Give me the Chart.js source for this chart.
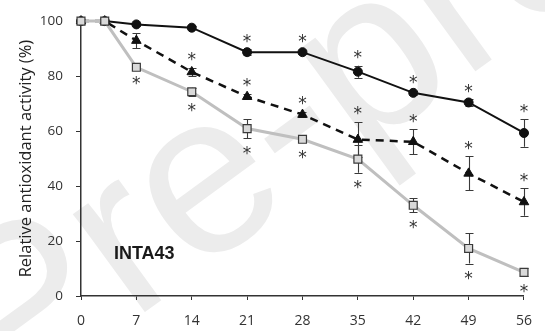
<!DOCTYPE html>
<html>
<head>
<meta charset="utf-8">
<script src="https://cdn.jsdelivr.net/npm/chart.js@4/dist/chart.umd.min.js"></script>
<style>
html,body{margin:0;padding:0;background:#fff;}
#wrap{width:545px;height:331px;position:relative;}
</style>
</head>
<body>
<div id="wrap"><canvas id="c" width="545" height="331"></canvas></div>
<script>
// ---- data ----
const days = [0, 3, 7, 14, 21, 28, 35, 42, 49, 56];
const xTicks = [0, 7, 14, 21, 28, 35, 42, 49, 56];
const yTicks = [0, 20, 40, 60, 80, 100];

const circleVals = [100, 100, 98.8, 97.6, 88.7, 88.7, 81.6, 73.9, 70.4, 59.3];
const circleErr  = [0, 0, 0.6, 0.5, 1.0, 0.8, 2.2, 0.8, 1.2, 5.0];
const circleSig  = [0, 0, 0, 0, 1, 1, 1, 1, 1, 1];

const triVals = [100, 100, 92.9, 81.5, 72.5, 66.0, 56.9, 56.1, 44.6, 34.2];
const triErr  = [0, 0, 2.7, 1.5, 1.0, 1.0, 6.4, 4.5, 6.2, 5.0];
const triSig  = [0, 0, 0, 1, 1, 1, 1, 1, 1, 1];

const sqVals = [100, 100, 83.2, 74.3, 60.9, 57.0, 49.8, 33.0, 17.3, 8.6];
const sqErr  = [0, 0, 0.5, 1.5, 3.5, 1.0, 5.0, 2.5, 5.5, 1.5];
const sqSig  = [0, 0, 1, 1, 1, 1, 1, 1, 1, 1];

const yTitle = 'Relative antioxidant activity (%)';
const panelLabel = 'INTA43';
const watermark = 'Pre-proof';

const pts = vals => days.map((d, i) => ({x: d, y: vals[i]}));

// extra info per dataset: errors, significance, asterisk direction
const extras = [
  {err: sqErr, sig: sqSig, dir: 1},
  {err: triErr, sig: triSig, dir: -1},
  {err: circleErr, sig: circleSig, dir: -1}
];

const watermarkPlugin = {
  id: 'wm',
  beforeDraw(chart) {
    const ctx = chart.ctx;
    ctx.save();
    ctx.fillStyle = '#fff';
    ctx.fillRect(0, 0, chart.width, chart.height);
    ctx.translate(8, 412);
    ctx.rotate(-0.63);
    ctx.font = '230px "Liberation Sans"';
    ctx.fillStyle = '#ececec';
    ctx.textBaseline = 'alphabetic';
    ctx.fillText(watermark, 0, 0);
    ctx.restore();
  }
};

const errorBarPlugin = {
  id: 'errbars',
  beforeDatasetsDraw(chart) {
    const ctx = chart.ctx;
    const ys = chart.scales.y;
    ctx.save();
    ctx.strokeStyle = '#3a3a3a';
    ctx.lineWidth = 1.1;
    chart.data.datasets.forEach((ds, di) => {
      const meta = chart.getDatasetMeta(di);
      const ex = extras[di];
      meta.data.forEach((el, i) => {
        const e = ex.err[i];
        if (!e) return;
        const v = ds.data[i].y;
        const x = Math.round(el.x) + 0.5;
        const yt = ys.getPixelForValue(v + e);
        const yb = ys.getPixelForValue(v - e);
        ctx.beginPath();
        ctx.moveTo(x, yt); ctx.lineTo(x, yb);
        ctx.moveTo(x - 4, Math.round(yt) + 0.5); ctx.lineTo(x + 4, Math.round(yt) + 0.5);
        ctx.moveTo(x - 4, Math.round(yb) + 0.5); ctx.lineTo(x + 4, Math.round(yb) + 0.5);
        ctx.stroke();
      });
    });
    ctx.restore();
  },
  afterDatasetsDraw(chart) {
    const ctx = chart.ctx;
    const ys = chart.scales.y;
    const xs = chart.scales.x;
    ctx.save();
    ctx.fillStyle = '#333';
    ctx.font = '17px "DejaVu Sans"';
    ctx.textAlign = 'center';
    ctx.textBaseline = 'alphabetic';
    const m = ctx.measureText('*');
    const midOff = (m.actualBoundingBoxAscent - m.actualBoundingBoxDescent) / 2;
    chart.data.datasets.forEach((ds, di) => {
      const meta = chart.getDatasetMeta(di);
      const ex = extras[di];
      meta.data.forEach((el, i) => {
        if (!ex.sig[i]) return;
        const v = ds.data[i].y;
        const e = ex.err[i];
        let y;
        if (ex.dir < 0) y = ys.getPixelForValue(v + e) - 11;
        else y = ys.getPixelForValue(v - e) + 12;
        ctx.fillText('*', el.x, y + midOff);
      });
    });
    // panel label
    ctx.font = 'bold 18px "Liberation Sans"';
    ctx.fillStyle = '#1a1a1a';
    ctx.textBaseline = 'middle';
    ctx.fillText(panelLabel, xs.getPixelForValue(8), ys.getPixelForValue(15.3));
    ctx.restore();
  }
};

new Chart(document.getElementById('c'), {
  type: 'line',
  data: {
    datasets: [
      {
        data: pts(sqVals),
        borderColor: '#bfbfbf',
        borderWidth: 3,
        pointStyle: 'rect',
        pointRadius: 5.6,
        pointBackgroundColor: '#d9d9d9',
        pointBorderColor: '#3a3a3a',
        pointBorderWidth: 1.2,
        tension: 0,
        clip: false
      },
      {
        data: pts(triVals),
        borderColor: '#111',
        borderWidth: 2.5,
        borderDash: [8, 6],
        pointStyle: 'triangle',
        pointRadius: 5.5,
        pointBackgroundColor: '#111',
        pointBorderColor: '#111',
        pointBorderWidth: 1,
        tension: 0,
        clip: false
      },
      {
        data: pts(circleVals),
        borderColor: '#111',
        borderWidth: 2,
        pointStyle: 'circle',
        pointRadius: 4.5,
        pointBackgroundColor: '#111',
        pointBorderColor: '#111',
        pointBorderWidth: 1,
        tension: 0,
        clip: false
      }
    ]
  },
  options: {
    responsive: false,
    animation: false,
    events: [],
    layout: {padding: {top: 15, right: 14, left: 0, bottom: 0}},
    plugins: {legend: {display: false}, tooltip: {enabled: false}},
    scales: {
      x: {
        type: 'linear',
        min: 0, max: 56,
        afterBuildTicks: s => { s.ticks = xTicks.map(v => ({value: v})); },
        afterFit: s => { s.height = 35; },
        grid: {drawOnChartArea: false, drawTicks: true, tickLength: 4, color: '#333', lineWidth: 1},
        border: {display: true, color: '#333', width: 1.5},
        ticks: {color: '#333', padding: 13, font: {family: '"Open Sans"', size: 14}, maxRotation: 0}
      },
      y: {
        type: 'linear',
        min: 0, max: 100,
        afterBuildTicks: s => { s.ticks = yTicks.map(v => ({value: v})); },
        afterFit: s => { s.width = 81; },
        grid: {drawOnChartArea: false, drawTicks: true, tickLength: 5, color: '#333', lineWidth: 1},
        border: {display: true, color: '#333', width: 1.5},
        ticks: {color: '#333', padding: 13, font: {family: '"Open Sans"', size: 13.5}},
        title: {display: true, text: yTitle, color: '#222', font: {family: '"Open Sans"', size: 16.5}, padding: {top: 16, bottom: 0}}
      }
    }
  },
  plugins: [watermarkPlugin, errorBarPlugin]
});
</script>
</body>
</html>
